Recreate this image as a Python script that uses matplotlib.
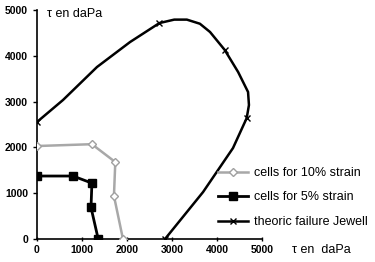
import matplotlib
matplotlib.use("Agg")
import matplotlib.pyplot as plt

plt.rcParams['font.family'] = ['Liberation Sans', 'DejaVu Sans']

# Data (tau in daPa)
x_10 = [0, 1220, 1740, 1710, 1910]
y_10 = [2030, 2070, 1680, 940, 0]

x_5 = [0, 800, 1220, 1200, 1360]
y_5 = [1375, 1375, 1220, 690, 0]

x_jw = [0, 578, 1333, 2067, 2720, 3050, 3330, 3620, 3845, 4170, 4470, 4690, 4710, 4660, 4355, 3690, 2845]
y_jw = [2555, 3035, 3755, 4300, 4715, 4790, 4790, 4700, 4520, 4130, 3645, 3210, 2925, 2640, 1985, 1025, 0]
jw_marked = [0, 4, 9, 13, 16]

xticks = [0, 1000, 2000, 3000, 4000, 5000]
yticks = [0, 1000, 2000, 3000, 4000, 5000]

fig = plt.figure(figsize=(3.75, 2.62), dpi=100)
ax = fig.add_axes([37/375, 23/262, 225/375, 229/262])

ax.plot(x_10, y_10, color='#a8a8a8', lw=1.8, marker='D', ms=4, mfc='white',
        mec='#a0a0a0', mew=1.0, label='cells for 10% strain', zorder=3)
ax.plot(x_5, y_5, color='black', lw=2.0, marker='s', ms=6, label='cells for 5% strain', zorder=4)
ax.plot(x_jw, y_jw, color='black', lw=1.8, marker='x', ms=5, mew=1.0,
        markevery=jw_marked, label='theoric failure Jewell', zorder=3)

ax.set_xlim(0, 5000)
ax.set_ylim(0, 5000)
ax.set_xticks(xticks)
ax.set_yticks(yticks)
for s in ['top', 'right']:
    ax.spines[s].set_visible(False)
for s in ['left', 'bottom']:
    ax.spines[s].set_linewidth(1.2)
ax.tick_params(axis='both', labelsize=7.5, length=3, width=1)
ax.tick_params(axis='x', direction='inout', pad=3)
for lab in ax.get_xticklabels() + ax.get_yticklabels():
    lab.set_fontweight('bold')

fig.text(47/375, (262-14)/262, 'τ en daPa', fontsize=9, va='center', ha='left')
fig.text(292/375, (262-250)/262, 'τ en  daPa', fontsize=9, va='center', ha='left')

leg = fig.legend(loc='upper left', bbox_to_anchor=(218/375, (262-167)/262),
                 frameon=False, fontsize=9, borderpad=0, borderaxespad=0,
                 handlelength=2.4, handletextpad=0.5, labelspacing=1.0)

fig.savefig('out.png', dpi=100)
